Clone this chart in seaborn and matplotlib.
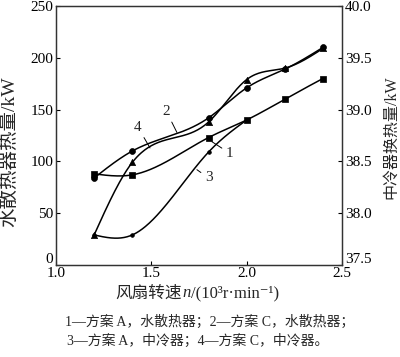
import numpy as np
import pandas as pd
import matplotlib
matplotlib.use("Agg")
import matplotlib.pyplot as plt
import matplotlib.transforms as mtransforms
import seaborn as sns
from matplotlib.offsetbox import TextArea, HPacker, AnchoredOffsetbox

# ---- data ----
speed = [1.2, 1.4, 1.8, 2.0, 2.2, 2.4]
water_A = [88, 87, 123, 140, 160, 180]          # 1 - plan A, water radiator (left)
water_C = [84, 110, 142, 171, 189, 210]         # 2 - plan C, water radiator (left)
speed_3 = [1.2, 1.4, 1.8, 2.0]
inter_A = [37.79, 37.79, 38.59, 38.90]          # 3 - plan A, intercooler (right)
inter_C = [37.79, 38.49, 38.88, 39.29, 39.40, 39.59]  # 4 - plan C, intercooler (right)

left_ticks = [0, 50, 100, 150, 200, 250]
right_ticks = [37.5, 38.0, 38.5, 39.0, 39.5, 40.0]
x_ticks = [1.0, 1.5, 2.0, 2.5]

sns.set_theme(style="ticks")
FAM = ["Liberation Serif", "Noto Sans CJK SC", "DejaVu Serif"]
plt.rcParams["font.family"] = FAM
plt.rcParams["axes.unicode_minus"] = False


def natural_spline(x, y, n=200):
    x = np.asarray(x, float)
    y = np.asarray(y, float)
    k = len(x)
    h = np.diff(x)
    A = np.zeros((k, k))
    b = np.zeros(k)
    A[0, 0] = 1
    A[-1, -1] = 1
    for i in range(1, k - 1):
        A[i, i - 1] = h[i - 1]
        A[i, i] = 2 * (h[i - 1] + h[i])
        A[i, i + 1] = h[i]
        b[i] = 6 * ((y[i + 1] - y[i]) / h[i] - (y[i] - y[i - 1]) / h[i - 1])
    M = np.linalg.solve(A, b)
    xs = np.linspace(x[0], x[-1], n)
    ys = np.empty_like(xs)
    for j, t in enumerate(xs):
        i = min(np.searchsorted(x, t, side="right") - 1, k - 2)
        hi = h[i]
        a = (x[i + 1] - t) / hi
        c = (t - x[i]) / hi
        ys[j] = (a * y[i] + c * y[i + 1]
                 + ((a ** 3 - a) * M[i] + (c ** 3 - c) * M[i + 1]) * hi ** 2 / 6)
    return xs, ys


fig = plt.figure(figsize=(4.0, 3.57), dpi=100)
ax = fig.add_axes([0.14, 0.2577, 0.715, 0.7255])
ax2 = ax.twinx()

lw = 1.1
col = "black"

def draw(axis, x, y, marker, ms):
    xs, ys = natural_spline(x, y)
    sns.lineplot(x=xs, y=ys, ax=axis, color=col, linewidth=lw, sort=False)
    sns.scatterplot(x=x, y=y, ax=axis, color=col, marker=marker, s=ms,
                    edgecolor=col, linewidth=0.5, zorder=5)

draw(ax, speed, water_A, "s", 18)
draw(ax, speed, water_C, "o", 18)
draw(ax2, speed_3, inter_A, "o", 7)
draw(ax2, speed, inter_C, "^", 20)

ax.set_xlim(1.0, 2.5)
ax.set_ylim(0, 250)
ax2.set_ylim(37.5, 40.0)
ax.set_xticks(x_ticks)
ax.set_xticklabels([f"{v:.1f}" for v in x_ticks])
ax.set_yticks(left_ticks)
ax.set_yticklabels([str(v) for v in left_ticks])
ax2.set_yticks(right_ticks)
ax2.set_yticklabels([f"{v:.1f}" for v in right_ticks])

for a in (ax, ax2):
    a.tick_params(direction="in", length=3, width=0.8, labelsize=11, pad=2,
                  colors="black")
    for s in a.spines.values():
        s.set_linewidth(0.9)
        s.set_color("#333333")
ax.tick_params(axis="y", right=False)
ax2.tick_params(axis="y", left=False)
ax.tick_params(axis="x", pad=1.5)
ax.set_xlabel("")
ax.set_ylabel("")
ax2.set_ylabel("")

# lift the lowest y tick labels slightly, as in the reference
lift = mtransforms.ScaledTranslation(0, 5 / 72, fig.dpi_scale_trans)
for lab in (ax.get_yticklabels()[0], ax2.get_yticklabels()[0]):
    lab.set_transform(lab.get_transform() + lift)

# axis titles
fig.text(0.024, 0.575, "水散热器热量/kW", rotation=90, ha="center", va="center",
         fontsize=14, family=FAM)
fig.text(0.978, 0.615, "中冷器换热量/kW", rotation=90, ha="center", va="center",
         fontsize=11.5, family=FAM)

# x label with italic n
parts = [TextArea("风扇转速", textprops=dict(fontsize=12, family=FAM)),
         TextArea("n", textprops=dict(fontsize=12, family=FAM, style="italic")),
         TextArea("/(10³r·min⁻¹)", textprops=dict(fontsize=12, family=FAM))]
box = HPacker(children=parts, align="baseline", pad=0, sep=0)
ab = AnchoredOffsetbox(loc="center", child=box, frameon=False,
                       bbox_to_anchor=(0.493, 0.178), bbox_transform=fig.transFigure,
                       borderpad=0, pad=0)
fig.add_artist(ab)

# captions
fig.text(0.525, 0.098, "1—方案 A，水散热器；2—方案 C，水散热器；", ha="center",
         va="center", fontsize=10, family=FAM)
fig.text(0.495, 0.046, "3—方案 A，中冷器；4—方案 C，中冷器。", ha="center",
         va="center", fontsize=10, family=FAM)

# curve labels with leader lines
labels = ["1", "2", "3", "4"]
label_xy = [(1.91, 108), (1.58, 148), (1.80, 84), (1.43, 133)]
leader_xy = [(1.818, 119), (1.634, 128), (1.739, 92), (1.493, 113)]
for t, (tx, ty), (lx, ly) in zip(labels, label_xy, leader_xy):
    ax.annotate(t, xy=(lx, ly), xytext=(tx, ty), fontsize=11, ha="center",
                va="center", family=FAM,
                arrowprops=dict(arrowstyle="-", color="black", lw=0.7,
                                shrinkA=0.5, shrinkB=0))

fig.savefig("out.png", dpi=100)
